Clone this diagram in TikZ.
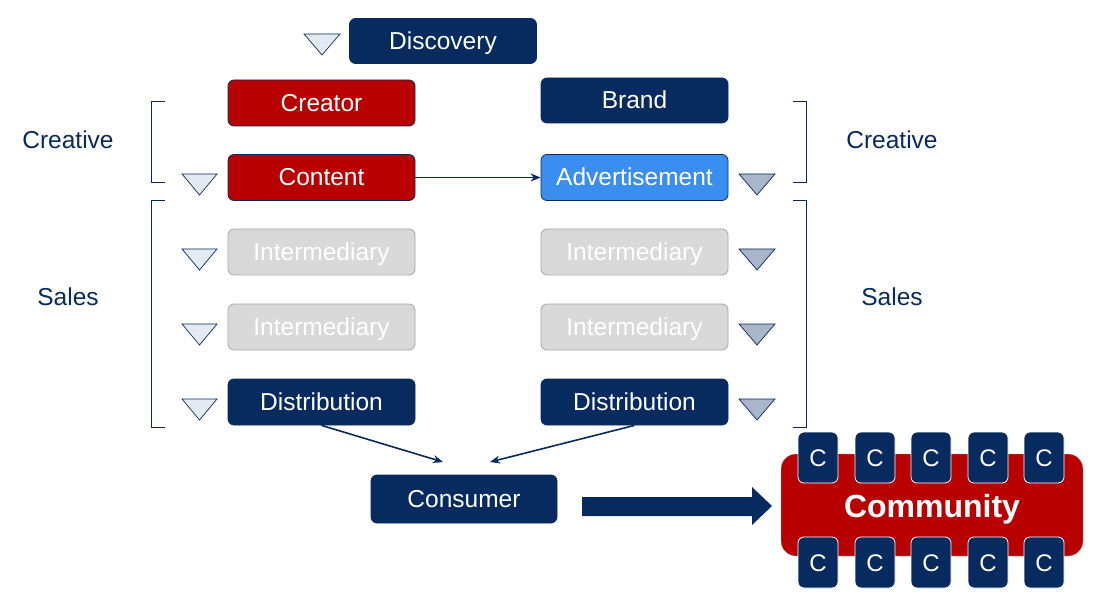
\documentclass[tikz,border=0pt]{standalone}
\usepackage{fontspec}
\setmainfont{Liberation Sans}
\usetikzlibrary{arrows.meta,calc}
\definecolor{navy}{HTML}{072B5E}
\definecolor{rd}{HTML}{B80000}
\definecolor{adblue}{HTML}{3A8EF0}
\definecolor{lgray}{HTML}{D9D9D9}
\definecolor{gborder}{HTML}{A6A6A6}
\definecolor{trilight}{HTML}{E4EAF1}
\definecolor{tridark}{HTML}{A9B5C9}
\tikzset{
  box/.style={rounded corners=6pt, minimum width=187pt, minimum height=46pt, inner sep=0pt,
     text height=18pt, text depth=1pt,
     font=\fontsize{24.5}{28}\selectfont, text=white, draw=navy, line width=0.8pt},
  navybox/.style={box, fill=navy},
  redbox/.style={box, fill=rd},
  adbox/.style={box, fill=adblue},
  graybox/.style={box, fill=lgray, draw=gborder},
  cbox/.style={rounded corners=6pt, minimum width=40pt, minimum height=51pt, inner sep=0pt,
     text height=18pt, text depth=1pt,
     fill=navy, draw=white, line width=0.8pt, text=white, font=\fontsize{24}{28}\selectfont},
  sidelabel/.style={text=navy, font=\fontsize{24.5}{28}\selectfont, text height=18pt, text depth=1pt, inner sep=0pt},
  trilt/.style={draw=navy, fill=trilight, line width=0.7pt, line join=miter},
  tridk/.style={draw=navy, fill=tridark, line width=0.7pt, line join=miter},
  brk/.style={draw=navy, line width=0.8pt},
  conn/.style={draw=navy, line width=1.6pt, -{Stealth[length=10pt,width=8pt]}}
}
\begin{document}
\begin{tikzpicture}[x=1pt,y=-1pt]
\useasboundingbox (0,0) rectangle (1107,601);
% boxes
\node[navybox, minimum height=45pt] (disc) at (443,41) {Discovery};
\node[redbox] (creator) at (321.5,103) {Creator};
\node[navybox, minimum height=45pt] (brand) at (634.5,100.5) {Brand};
\node[redbox] (content) at (321.5,177.5) {Content};
\node[adbox] (adv) at (634.5,177.5) {Advertisement};
\node[graybox] (il1) at (321.5,252) {Intermediary};
\node[graybox] (ir1) at (634.5,252) {Intermediary};
\node[graybox] (il2) at (321.5,327) {Intermediary};
\node[graybox] (ir2) at (634.5,327) {Intermediary};
\node[navybox] (dl) at (321.5,402) {Distribution};
\node[navybox] (dr) at (634.5,402) {Distribution};
\node[navybox, minimum width=186pt, minimum height=48pt] (cons) at (464,499) {Consumer};
% side labels
\node[sidelabel] (crl) at (68,140) {Creative};
\node[sidelabel] (sal) at (68,297) {Sales};
\node[sidelabel] (crr) at (892,140) {Creative};
\node[sidelabel] (sar) at (892,297) {Sales};
% brackets
\draw[brk] (165,101) -- (151,101) -- (151,182) -- (165,182);
\draw[brk] (165,200) -- (151,200) -- (151,427) -- (165,427);
\draw[brk] (793,101) -- (806,101) -- (806,182) -- (793,182);
\draw[brk] (793,200) -- (806,200) -- (806,427) -- (793,427);
% triangles
\draw[trilt] (304,34) -- (340,34) -- (322,55) -- cycle;
\foreach \y in {174,249,324,399}{
  \draw[trilt] (182,\y) -- (217,\y) -- (199.5,\y+21) -- cycle;
  \draw[tridk] (739,\y) -- (775,\y) -- (757,\y+21) -- cycle;
}
% connectors
\coordinate (cl) at (443,462);
\coordinate (cr) at (490,462);
\draw[conn] (content.east) -- (adv.west);
\draw[conn] (dl.south) -- (cl);
\draw[conn] (dr.south) -- (cr);
% big arrow
\fill[navy] (582,497) -- (752,497) -- (752,487) -- (772,506) -- (752,525) -- (752,516) -- (582,516) -- cycle;
% community
\node[draw=gborder, fill=rd, rounded corners=15pt, minimum width=302pt, minimum height=102pt, inner sep=0pt] (comm) at (932,505) {};
\foreach \x [count=\i] in {818,875,931,988,1044}{
  \node[cbox] (ct\i) at (\x,457.5) {C};
  \node[cbox] (cb\i) at (\x,562.5) {C};
}
\node[text=white, inner sep=0pt, text height=23pt, text depth=1pt, font=\bfseries\fontsize{32}{36}\selectfont] (commlabel) at (932,506) {Community};
\end{tikzpicture}
\end{document}
